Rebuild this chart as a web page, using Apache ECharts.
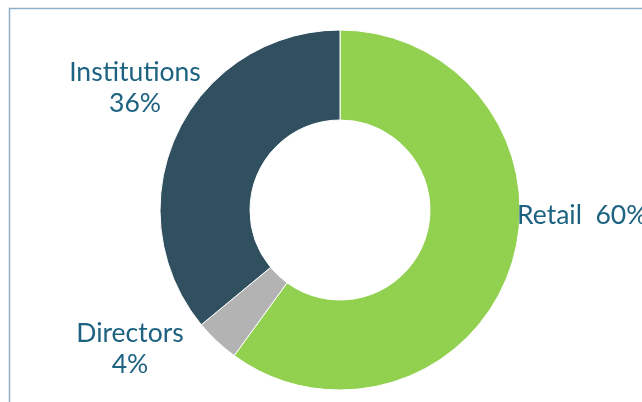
<!DOCTYPE html>
<html><head><meta charset="utf-8">
<script src="https://cdn.jsdelivr.net/npm/echarts@6/dist/echarts.min.js"></script>
<style>html,body{margin:0;padding:0;background:#fff}#c{width:642px;height:402px}</style>
</head><body><div id="c"></div>
<script>
const categories = ['Retail', 'Directors', 'Institutions'];
const values = [60, 4, 36];
const colors = ['#92D050', '#B3B3B3', '#31505F'];
const labelTexts = ['Retail  60%', 'Directors\n4%', 'Institutions\n36%'];
const labelPos = [
  {x: 517, y: 215, align: 'left'},
  {x: 130, y: 349, align: 'center'},
  {x: 135, y: 88, align: 'center'}
];
const chart = echarts.init(document.getElementById('c'), null, {renderer: 'canvas'});
chart.setOption({
  animation: false,
  graphic: [{type: 'rect', shape: {x: 9.5, y: 8.5, width: 800, height: 600}, style: {fill: 'none', stroke: '#8fb0c8', lineWidth: 1.5}, z: -1}],
  series: [{
    type: 'pie',
    center: [340, 210],
    radius: [90, 180],
    startAngle: 90,
    clockwise: true,
    itemStyle: {borderColor: '#fff', borderWidth: 1},
    label: {
      show: true,
      formatter: p => labelTexts[p.dataIndex],
      color: '#1d6280',
      fontFamily: 'Lato',
      fontSize: 26.5,
      lineHeight: 31,
      overflow: 'none',
      width: 300
    },
    labelLine: {show: false},
    labelLayout: p => ({x: labelPos[p.dataIndex].x, y: labelPos[p.dataIndex].y, align: labelPos[p.dataIndex].align, verticalAlign: 'middle'}),
    emphasis: {disabled: true},
    data: categories.map((c, i) => ({name: c, value: values[i], itemStyle: {color: colors[i]}}))
  }]
});
</script></body></html>
